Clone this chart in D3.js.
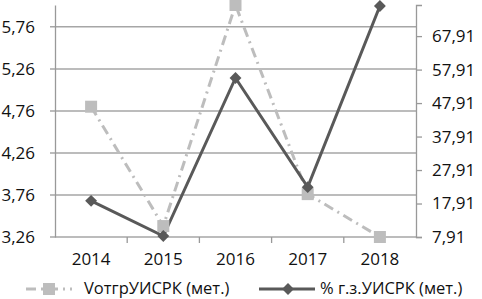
<!DOCTYPE html>
<html>
<head>
<meta charset="utf-8">
<script src="https://cdn.jsdelivr.net/npm/d3@7"></script>
<style>
  body { margin: 0; background: #fff; }
  svg text { font-family: "Open Sans", "Liberation Sans", sans-serif; fill: #111; }
</style>
</head>
<body>
<div id="chart"></div>
<script>
// Data
const years = ["2014", "2015", "2016", "2017", "2018"];
const vOtgr = [4.81, 3.39, 6.02, 3.77, 3.26];       // left axis
const pctGz = [18.7, 8.2, 55.4, 22.8, 76.9];         // right axis
const leftTicks = [3.26, 3.76, 4.26, 4.76, 5.26, 5.76];
const rightTicks = [7.91, 17.91, 27.91, 37.91, 47.91, 57.91, 67.91];
const seriesNames = ["VотгрУИСРК (мет.)", "% г.з.УИСРК (мет.)"];

const width = 482, height = 299;
const margin = { top: 5, right: 66, bottom: 62, left: 55 };
const innerW = width - margin.left - margin.right;
const innerH = height - margin.top - margin.bottom;

const svg = d3.select("#chart").append("svg")
  .attr("width", width)
  .attr("height", height);

const g = svg.append("g")
  .attr("transform", `translate(${margin.left},${margin.top})`);

const x = d3.scaleBand().domain(years).range([0, innerW]);
const yL = d3.scaleLinear().domain([3.26, 6.02]).range([innerH, 0]);
const yR = d3.scaleLinear().domain([7.91, 77.2]).range([innerH, 0]);

const fmt = d => d.toFixed(2).replace(".", ",");

// gridlines (left axis)
g.append("g")
  .selectAll("line")
  .data(leftTicks)
  .join("line")
  .attr("x1", -5).attr("x2", innerW)
  .attr("y1", d => yL(d)).attr("y2", d => yL(d))
  .attr("stroke", "#a6a6a6")
  .attr("stroke-width", 1.5);

// left axis
const leftAxis = g.append("g")
  .call(d3.axisLeft(yL).tickValues(leftTicks).tickFormat(fmt).tickSize(0).tickPadding(20));
leftAxis.select(".domain").attr("stroke", "#999").attr("stroke-width", 1.3);
leftAxis.selectAll("text").attr("font-size", 17);

// right axis
const rightAxis = g.append("g")
  .attr("transform", `translate(${innerW},0)`)
  .call(d3.axisRight(yR).tickValues(rightTicks).tickFormat(fmt).tickSize(6).tickPadding(10));
rightAxis.select(".domain").attr("stroke", "#999").attr("stroke-width", 1.3);
rightAxis.selectAll(".tick line").attr("stroke", "#999").attr("stroke-width", 1.3);
rightAxis.selectAll("text").attr("font-size", 17);

// bottom axis
const bottom = g.append("g")
  .attr("transform", `translate(0,${innerH})`)
  .call(d3.axisBottom(x).tickSize(0).tickPadding(16));
bottom.select(".domain").remove();
bottom.selectAll("text").attr("font-size", 17);
g.append("g")
  .selectAll("line")
  .data(years.slice(1))
  .join("line")
  .attr("x1", d => x(d)).attr("x2", d => x(d))
  .attr("y1", innerH).attr("y2", innerH + 6)
  .attr("stroke", "#999").attr("stroke-width", 1.3);

const cx = d => x(d) + x.bandwidth() / 2;

// series 1: light dash-dot with squares
const line1 = d3.line().x((d, i) => cx(years[i])).y(d => yL(d));
g.append("path")
  .datum(vOtgr)
  .attr("d", line1)
  .attr("fill", "none")
  .attr("stroke", "#bdbdbd")
  .attr("stroke-width", 3)
  .attr("stroke-dasharray", "10,5,2,5");

// series 2: dark solid with diamonds
const line2 = d3.line().x((d, i) => cx(years[i])).y(d => yR(d));
g.append("path")
  .datum(pctGz)
  .attr("d", line2)
  .attr("fill", "none")
  .attr("stroke", "#595959")
  .attr("stroke-width", 3);

g.selectAll(".sq")
  .data(vOtgr)
  .join("rect")
  .attr("class", "sq")
  .attr("x", (d, i) => cx(years[i]) - 6)
  .attr("y", d => yL(d) - 6)
  .attr("width", 12).attr("height", 12)
  .attr("fill", "#bdbdbd");

const diamond = d3.symbol().type(d3.symbolDiamond2).size(90);
g.selectAll(".dm")
  .data(pctGz)
  .join("path")
  .attr("class", "dm")
  .attr("d", diamond)
  .attr("transform", (d, i) => `translate(${cx(years[i])},${yR(d)})`)
  .attr("fill", "#595959");

// legend
const leg = svg.append("g").attr("transform", "translate(0,289)");
const l1 = leg.append("g");
l1.append("line").attr("x1", 26).attr("x2", 72).attr("y1", 0).attr("y2", 0)
  .attr("stroke", "#bdbdbd").attr("stroke-width", 3).attr("stroke-dasharray", "10,5,2,5");
l1.append("rect").attr("x", 49 - 6).attr("y", -6).attr("width", 12).attr("height", 12).attr("fill", "#bdbdbd");
l1.append("text").attr("x", 84).attr("y", 5).attr("font-size", 16.5).text(seriesNames[0]);

const l2 = leg.append("g");
l2.append("line").attr("x1", 259).attr("x2", 315).attr("y1", 0).attr("y2", 0)
  .attr("stroke", "#595959").attr("stroke-width", 3);
l2.append("path").attr("d", diamond).attr("transform", "translate(288,0)").attr("fill", "#595959");
l2.append("text").attr("x", 320).attr("y", 5).attr("font-size", 16.5).text(seriesNames[1]);
</script>
</body>
</html>
